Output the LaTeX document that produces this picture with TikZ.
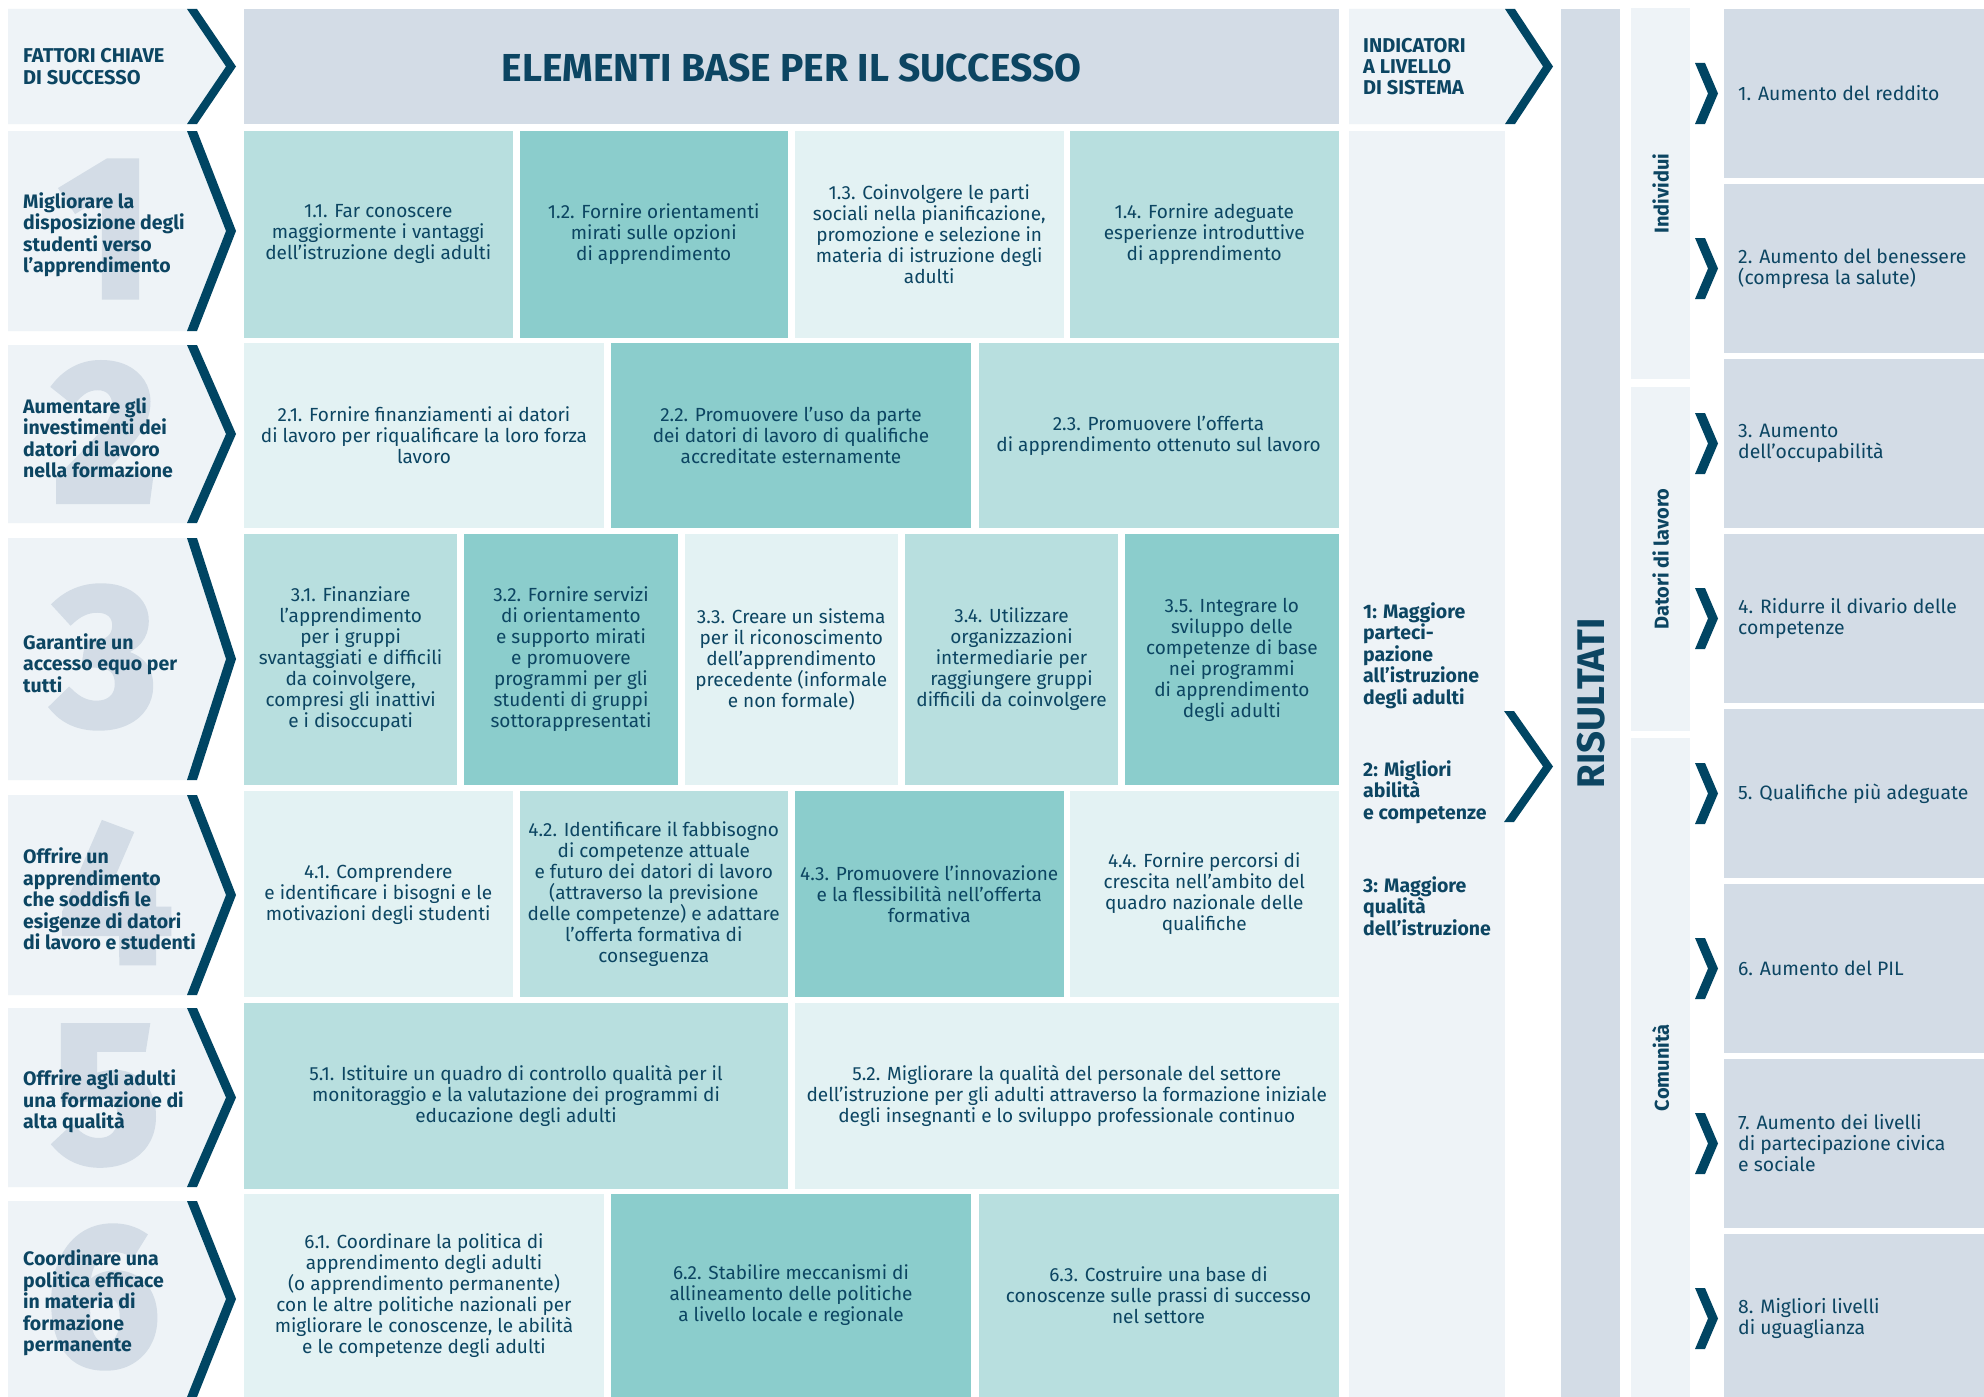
\documentclass[tikz,border=0pt]{standalone}
\usepackage{fontspec}
\setmainfont{Fira Sans}
\newfontfamily\digitfont{Fira Sans}[FakeBold=3]
\definecolor{bglight}{HTML}{EEF3F7}
\definecolor{graybl}{HTML}{D3DCE6}
\definecolor{darkc}{HTML}{004563}
\definecolor{txt}{HTML}{0C4562}
\definecolor{tA}{HTML}{B8DFDF}
\definecolor{tB}{HTML}{8BCDCC}
\definecolor{tC}{HTML}{E3F2F3}
\tikzset{
  cellbase/.style={inner sep=0pt, outer sep=0pt, anchor=north west, align=center, text=txt,
    font=\fontsize{19}{21}\selectfont},
  factortext/.style={inner sep=0pt, anchor=west, align=left, text=txt,
    font=\bfseries\fontsize{19.5}{21.5}\selectfont},
  digitstyle/.style={inner sep=0pt, text=graybl, font=\digitfont\bfseries\fontsize{200}{200}\selectfont},
  chev/.style={fill=darkc},
  restext/.style={inner sep=0pt, anchor=west, align=left, text=txt, font=\fontsize{19.4}{21}\selectfont},
  grouptext/.style={inner sep=0pt, rotate=90, text=txt, font=\bfseries\fontsize{20}{22}\selectfont},
  indtext/.style={inner sep=0pt, anchor=north west, align=left, text=txt, font=\bfseries\fontsize{19.5}{21.5}\selectfont},
}
\newcommand\cellbox[7]{\node[cellbase, fill=#6, minimum width=#4pt, minimum height=#5pt] (#1) at (#2,#3) {#7};}
\newcommand\factorrow[6]{%
  \pgfmathsetmacro\fmid{(#2+#3)/2}
  \fill[bglight] (8,#2) -- (187,#2) -- (226,\fmid) -- (187,#3) -- (8,#3) -- cycle;
  \node[digitstyle] (#1d) at (#6,\fmid-2) {#4};
  \node[factortext] (#1) at (23,\fmid+4) {#5};
  \fill[chev] (187,#2) -- (197,#2) -- (236,\fmid) -- (197,#3) -- (187,#3) -- (226,\fmid) -- cycle;
}
\newcommand\resultrow[3]{%
  \pgfmathsetmacro\rtop{9+175*(#1-1)}
  \pgfmathsetmacro\rh{min(169,1397-\rtop)}
  \pgfmathsetmacro\rc{\rtop+84.5}
  \fill[graybl] (1724,\rtop) rectangle (1984,\rtop+\rh);
  \node[restext] (#2) at (1738,\rc) {#3};
  \fill[chev] (1695,\rc-30.5) -- (1705,\rc-30.5) -- (1718,\rc) -- (1705,\rc+30.5) -- (1695,\rc+30.5) -- (1708,\rc) -- cycle;
}
\begin{document}
\begin{tikzpicture}[x=1pt,y=-1pt]
\fill[white] (0,0) rectangle (1984,1397);
\useasboundingbox (0,0) rectangle (1984,1397);

% header row
\fill[bglight] (8,9) -- (187,9) -- (226,66.5) -- (187,124) -- (8,124) -- cycle;
\node[inner sep=0pt, anchor=west, align=left, text=txt, font=\bfseries\fontsize{20}{22}\selectfont] (fattori) at (23,66.5) {FATTORI CHIAVE\\DI SUCCESSO};
\fill[chev] (187,9) -- (197,9) -- (236,66.5) -- (197,124) -- (187,124) -- (226,66.5) -- cycle;
\node[inner sep=0pt, fill=graybl, minimum width=1094.5pt, minimum height=115pt, anchor=north west] (header) at (244,9) {};
\node[text=txt, font=\bfseries\fontsize{39}{42}\selectfont] (headertxt) at ([yshift=-1pt]header.center) {ELEMENTI BASE PER IL SUCCESSO};

% indicator header
\fill[bglight] (1349,9) -- (1505,9) -- (1543,66.5) -- (1505,124) -- (1349,124) -- cycle;
\node[inner sep=0pt, anchor=west, align=left, text=txt, font=\bfseries\fontsize{20}{21}\selectfont] (indhead) at (1363,66.5) {INDICATORI\\A LIVELLO\\DI SISTEMA};
\fill[chev] (1505,9) -- (1515,9) -- (1553,66.5) -- (1515,124) -- (1505,124) -- (1543,66.5) -- cycle;

% indicator body
\node[inner sep=0pt, fill=bglight, minimum width=156pt, minimum height=1266pt, anchor=north west] (indbody) at (1349,131) {};
\node[indtext] (ind1) at (1363,602) {1: Maggiore\\parteci-\\pazione\\all’istruzione\\degli adulti};
\node[indtext] (ind2) at (1363,760) {2: Migliori\\abilità\\e competenze};
\node[indtext] (ind3) at (1363,876) {3: Maggiore\\qualità\\dell’istruzione};
\fill[chev] (1504,711) -- (1514,711) -- (1553,766.5) -- (1514,822) -- (1504,822) -- (1543,766.5) -- cycle;

% risultati column
\node[inner sep=0pt, fill=graybl, minimum width=59pt, minimum height=1388pt, anchor=north west] (riscol) at (1561,9) {};
\node[rotate=90, text=txt, font=\bfseries\fontsize{38.5}{42}\selectfont] (ris) at (riscol.center) {RISULTATI};

% group columns
\node[inner sep=0pt, fill=bglight, minimum width=59pt, minimum height=371pt, anchor=north west] (gind) at (1631,8) {};
\node[grouptext] (gindt) at (gind.center) {Individui};
\node[inner sep=0pt, fill=bglight, minimum width=59pt, minimum height=344pt, anchor=north west] (gdat) at (1631,387) {};
\node[grouptext] (gdatt) at (gdat.center) {Datori di lavoro};
\node[inner sep=0pt, fill=bglight, minimum width=59pt, minimum height=659pt, anchor=north west] (gcom) at (1631,738) {};
\node[grouptext] (gcomt) at (gcom.center) {Comunità};

% results
\resultrow{1}{r1}{1. Aumento del reddito}
\resultrow{2}{r2}{2. Aumento del benessere\\(compresa la salute)}
\resultrow{3}{r3}{3. Aumento\\dell’occupabilità}
\resultrow{4}{r4}{4. Ridurre il divario delle\\competenze}
\resultrow{5}{r5}{5. Qualifiche più adeguate}
\resultrow{6}{r6}{6. Aumento del PIL}
\resultrow{7}{r7}{7. Aumento dei livelli\\di partecipazione civica\\e sociale}
\resultrow{8}{r8}{8. Migliori livelli\\di uguaglianza}

% row 1
\cellbox{b11}{244}{131}{268.5}{206.5}{tA}{1.1. Far conoscere\\maggiormente i vantaggi\\dell’istruzione degli adulti}
\cellbox{b12}{519.5}{131}{268.5}{206.5}{tB}{1.2. Fornire orientamenti\\mirati sulle opzioni\\di apprendimento}
\cellbox{b13}{795}{131}{268.5}{206.5}{tC}{1.3. Coinvolgere le parti\\sociali nella pianificazione,\\promozione e selezione in\\materia di istruzione degli\\adulti}
\cellbox{b14}{1070}{131}{268.5}{206.5}{tA}{1.4. Fornire adeguate\\esperienze introduttive\\di apprendimento}
% row 2
\cellbox{b21}{244}{343}{360}{185}{tC}{2.1. Fornire finanziamenti ai datori\\di lavoro per riqualificare la loro forza\\lavoro}
\cellbox{b22}{611}{343}{360}{185}{tB}{2.2. Promuovere l’uso da parte\\dei datori di lavoro di qualifiche\\accreditate esternamente}
\cellbox{b23}{978.5}{343}{360}{185}{tA}{2.3. Promuovere l’offerta\\di apprendimento ottenuto sul lavoro}
% row 3
\cellbox{b31}{244}{534}{213.3}{251}{tA}{3.1. Finanziare\\l’apprendimento\\per i gruppi\\svantaggiati e difficili\\da coinvolgere,\\compresi gli inattivi\\e i disoccupati}
\cellbox{b32}{464.3}{534}{213.3}{251}{tB}{3.2. Fornire servizi\\di orientamento\\e supporto mirati\\e promuovere\\programmi per gli\\studenti di gruppi\\sottorappresentati}
\cellbox{b33}{684.6}{534}{213.3}{251}{tC}{3.3. Creare un sistema\\per il riconoscimento\\dell’apprendimento\\precedente (informale\\e non formale)}
\cellbox{b34}{904.9}{534}{213.3}{251}{tA}{3.4. Utilizzare\\organizzazioni\\intermediarie per\\raggiungere gruppi\\difficili da coinvolgere}
\cellbox{b35}{1125.2}{534}{213.3}{251}{tB}{3.5. Integrare lo\\sviluppo delle\\competenze di base\\nei programmi\\di apprendimento\\degli adulti}
% row 4
\cellbox{b41}{244}{791}{268.5}{206}{tC}{4.1. Comprendere\\e identificare i bisogni e le\\motivazioni degli studenti}
\cellbox{b42}{519.5}{791}{268.5}{206}{tA}{4.2. Identificare il fabbisogno\\di competenze attuale\\e futuro dei datori di lavoro\\(attraverso la previsione\\delle competenze) e adattare\\l’offerta formativa di\\conseguenza}
\cellbox{b43}{795}{791}{268.5}{206}{tB}{4.3. Promuovere l’innovazione\\e la flessibilità nell’offerta\\formativa}
\cellbox{b44}{1070}{791}{268.5}{206}{tC}{4.4. Fornire percorsi di\\crescita nell’ambito del\\quadro nazionale delle\\qualifiche}
% row 5
\cellbox{b51}{244}{1003}{544}{186}{tA}{5.1. Istituire un quadro di controllo qualità per il\\monitoraggio e la valutazione dei programmi di\\educazione degli adulti}
\cellbox{b52}{795}{1003}{543.5}{186}{tC}{5.2. Migliorare la qualità del personale del settore\\dell’istruzione per gli adulti attraverso la formazione iniziale\\degli insegnanti e lo sviluppo professionale continuo}
% row 6
\cellbox{b61}{244}{1194}{360}{203}{tC}{6.1. Coordinare la politica di\\apprendimento degli adulti\\(o apprendimento permanente)\\con le altre politiche nazionali per\\migliorare le conoscenze, le abilità\\e le competenze degli adulti}
\cellbox{b62}{611}{1194}{360}{203}{tB}{6.2. Stabilire meccanismi di\\allineamento delle politiche\\a livello locale e regionale}
\cellbox{b63}{978.5}{1194}{360}{203}{tA}{6.3. Costruire una base di\\conoscenze sulle prassi di successo\\nel settore}

% factor rows
\factorrow{f1}{131}{331}{1}{Migliorare la\\disposizione degli\\studenti verso\\l’apprendimento}{106}
\factorrow{f2}{345}{523}{2}{Aumentare gli\\investimenti dei\\datori di lavoro\\nella formazione}{105}
\factorrow{f3}{538}{780}{3}{Garantire un\\accesso equo per\\tutti}{105}
\factorrow{f4}{795}{995}{4}{Offrire un\\apprendimento\\che soddisfi le\\esigenze di datori\\di lavoro e studenti}{116}
\factorrow{f5}{1008}{1187}{5}{Offrire agli adulti\\una formazione di\\alta qualità}{106}
\factorrow{f6}{1201}{1397}{6}{Coordinare una\\politica efficace\\in materia di\\formazione\\permanente}{103}
\end{tikzpicture}
\end{document}
